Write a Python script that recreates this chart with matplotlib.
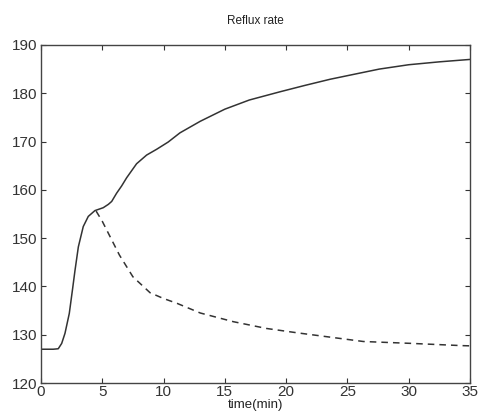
import matplotlib.pyplot as plt

# Reflux rate against time, two runs
t_solid = [0, 1.0, 1.41, 1.69, 1.96, 2.31, 2.58, 2.77, 3.05, 3.45, 3.86, 4.4,
           5.08, 5.5, 5.77, 6.17, 6.58, 6.99, 7.8, 8.62, 9.44, 10.38, 11.34,
           13, 15, 17, 19.5, 21.5, 23.6, 25.5, 27.6, 30, 32.5, 35]
reflux_solid = [127, 127, 127.1, 128.2, 130.3, 134.4, 139.5, 143.2, 148.2,
                152.4, 154.5, 155.7, 156.3, 157.0, 157.6, 159.3, 160.8, 162.5,
                165.4, 167.2, 168.4, 169.9, 171.8, 174.2, 176.7, 178.6, 180.3,
                181.6, 182.9, 183.9, 185.0, 185.9, 186.5, 187.0]

t_dashed = [4.5, 5.0, 5.6, 6.4, 7.5, 8.9, 10, 11.1, 13, 15.7, 18.4, 20.9,
            23.6, 26.3, 30.3, 34.3, 35]
reflux_dashed = [155.6, 153.5, 150.5, 146.5, 142, 138.7, 137.5, 136.5, 134.5,
                 132.7, 131.3, 130.4, 129.5, 128.6, 128.2, 127.75, 127.7]

x_ticks = list(range(0, 36, 5))
y_ticks = list(range(120, 191, 10))

plt.rcParams['font.family'] = ['Liberation Sans', 'DejaVu Sans']

fig = plt.figure(figsize=(4.82, 4.2), dpi=100)
ax = fig.add_axes([0.085, 0.088, 0.89, 0.805])

ax.plot(t_solid, reflux_solid, color='#333333', linewidth=1.1)
ax.plot(t_dashed, reflux_dashed, color='#333333', linewidth=1.1, dashes=(4.3, 3.3))

ax.set_xlim(0, 35)
ax.set_ylim(120, 190)
ax.set_xticks(x_ticks)
ax.set_yticks(y_ticks)
ax.tick_params(direction='in', length=3.5, width=0.8, top=True, right=True,
               labelsize=11, colors='#333333')
ax.tick_params(axis='x', pad=1.5)
ax.tick_params(axis='y', pad=2.5)
for s in ax.spines.values():
    s.set_color('#444444')
    s.set_linewidth(1.0)

ax.set_title('Reflux rate', fontsize=8.5, pad=15, color='#222222')
ax.set_xlabel('time(min)', fontsize=9.5, labelpad=0, color='#222222')

fig.savefig('out.png', dpi=100)
